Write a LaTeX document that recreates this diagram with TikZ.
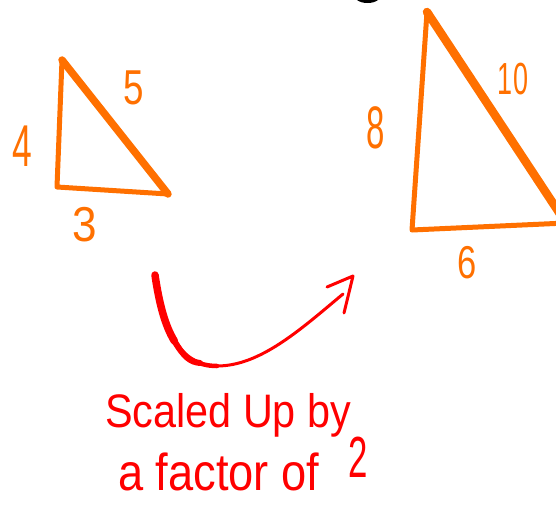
\documentclass[tikz,border=0pt]{standalone}
\usepackage{fontspec}
\setmainfont{Liberation Sans}
\definecolor{penorange}{RGB}{255,112,0}
\definecolor{penred}{RGB}{255,0,0}
\tikzset{
  tri/.style={draw=penorange, line width=5pt, line join=round, line cap=round},
  hyp/.style={draw=penorange, line width=7.5pt, line cap=round},
  digit/.style={text=penorange, inner sep=0pt, anchor=center},
  pen/.style={draw=penred, line cap=round, line join=round},
  words/.style={text=penred, inner sep=0pt, anchor=base west}
}
\begin{document}
\begin{tikzpicture}[x=1pt,y=-1pt]
\useasboundingbox (0,0) rectangle (556,506);
\clip (0,0) rectangle (556,506);
% cut-off black mark at the top
\fill[black] (357,0) .. controls (362,4) and (373,4) .. (378,0) -- cycle;
% small triangle
\coordinate (A) at (62,60);
\coordinate (B) at (57,187);
\coordinate (C) at (168,194);
\draw[tri] (A) -- (B) -- (C);
\draw[hyp] (A) -- (C);
\node[digit, font=\fontsize{49}{49}\selectfont, xscale=0.75] (l5) at (134,88) {5};
\node[digit, font=\fontsize{59}{59}\selectfont, xscale=0.6] (l4) at (22,146) {4};
\node[digit, font=\fontsize{49}{49}\selectfont, xscale=0.9] (l3) at (85,225) {3};
% large triangle
\coordinate (D) at (427,12);
\coordinate (E) at (412,230);
\coordinate (F) at (566,223);
\draw[tri] (D) -- (E) -- (F);
\draw[hyp, line width=8.5pt] (D) -- (F);
\node[digit, font=\fontsize{45}{45}\selectfont, xscale=0.6] (l10) at (513,79) {10};
\node[digit, font=\fontsize{60}{60}\selectfont, xscale=0.55] (l8) at (376,128) {8};
\node[digit, font=\fontsize{46}{46}\selectfont, xscale=0.75] (l6) at (467,263) {6};
% curved arrow (tapering stroke)
\coordinate (s0) at (155,275);
\coordinate (sm) at (174.4,341.1);
\coordinate (s1) at (217,366);
\coordinate (s2) at (343,294);
\coordinate (tip) at (353,276);
\coordinate (h1) at (327,287);
\coordinate (h2) at (344,313);
\draw[pen, line width=3pt] (s1) .. controls (260,366) and (300,330) .. (s2);
\draw[pen, line width=4.5pt] (s0) .. controls (163,330) and (178,366) .. (s1);
\draw[pen, line width=6pt] (s0) .. controls (159,302.5) and (164.75,325.25) .. (sm)
  .. controls (184,357) and (190,362) .. (200,363);
\draw[pen, line width=7.5pt] (s0) .. controls (159,302.5) and (164.75,325.25) .. (sm);
\draw[pen, line width=3pt] (h1) -- (tip) -- (h2);
% caption
\node[words, font=\fontsize{47}{47}\selectfont, xscale=0.88] (cap1) at (105,427) {Scaled Up by};
\node[words, font=\fontsize{52}{52}\selectfont, xscale=0.87] (cap2) at (118,490) {a factor of};
\node[words, font=\fontsize{58}{58}\selectfont, xscale=0.6] (cap3) at (348,477) {2};
\end{tikzpicture}
\end{document}
